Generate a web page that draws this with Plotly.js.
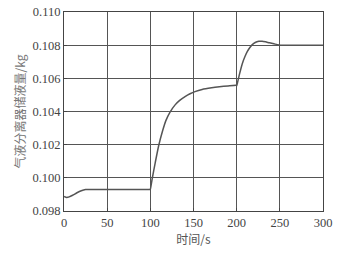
<!DOCTYPE html>
<html><head><meta charset="utf-8">
<script src="https://cdn.plot.ly/plotly-3.0.1.min.js"></script>
<style>html,body{margin:0;padding:0;background:#fff}#c{width:341px;height:253px}</style>
</head><body><div id="c"></div>
<script>
const timeS = [0,1.5,3,6,10,15,20,25,35,50,75,99.5,100,102,105.7,109.7,114.3,118,123,128.7,134,140.2,146,151.7,160,171,180,190,199.5,200,200.8,203.5,206.6,209.5,212.4,215.3,218.1,221.5,225.7,229.5,233.5,238,243.1,247,250.8,260,280,300];
const massKg = [0.09888,0.09884,0.09882,0.09885,0.09895,0.09910,0.09922,0.09929,0.09930,0.09930,0.09930,0.09930,0.09931,0.09990,0.10092,0.10195,0.10285,0.10345,0.10398,0.10440,0.10467,0.10490,0.10507,0.10520,0.10533,0.10543,0.10549,0.10554,0.10558,0.10554,0.10570,0.10630,0.10690,0.10730,0.10762,0.10786,0.10803,0.10816,0.10823,0.10824,0.10820,0.10814,0.10808,0.10803,0.10800,0.10800,0.10800,0.10800];
const xTicks = [0,50,100,150,200,250,300];
const yTicks = [0.098,0.100,0.102,0.104,0.106,0.108,0.110];
const yTickText = ['0.098','0.100','0.102','0.104','0.106','0.108','0.110'];

Plotly.newPlot('c',[{
  x: timeS, y: massKg, type:'scatter', mode:'lines',
  line:{color:'#555', width:1.5, shape:'spline', smoothing:0.5}
}],{
  width:341, height:253,
  margin:{l:64,r:18,t:12,b:42},
  paper_bgcolor:'#fff', plot_bgcolor:'#fff',
  showlegend:false,
  font:{family:'Liberation Serif, serif', color:'#444', size:12.5},
  xaxis:{range:[0,300], tickvals:xTicks, ticks:'inside', ticklen:3, tickcolor:'#444',
    showgrid:true, gridcolor:'#555', gridwidth:1, zeroline:false,
    showline:true, linecolor:'#444', linewidth:1, mirror:true,
    title:{text:'时间/s', font:{family:'Noto Sans CJK SC, Liberation Serif', size:12, color:'#555'}, standoff:1},
    tickfont:{size:12.5}},
  yaxis:{range:[0.098,0.110], tickvals:yTicks, ticktext:yTickText, ticks:'inside', ticklen:3, tickcolor:'#444',
    showgrid:true, gridcolor:'#555', gridwidth:1, zeroline:false,
    showline:true, linecolor:'#444', linewidth:1, mirror:true,
    title:{text:'气液分离器储液量/kg', font:{family:'Noto Sans CJK SC, Liberation Serif', size:12, color:'#777'}, standoff:4},
    tickfont:{size:12.5}}
},{staticPlot:true, displayModeBar:false});
</script></body></html>
